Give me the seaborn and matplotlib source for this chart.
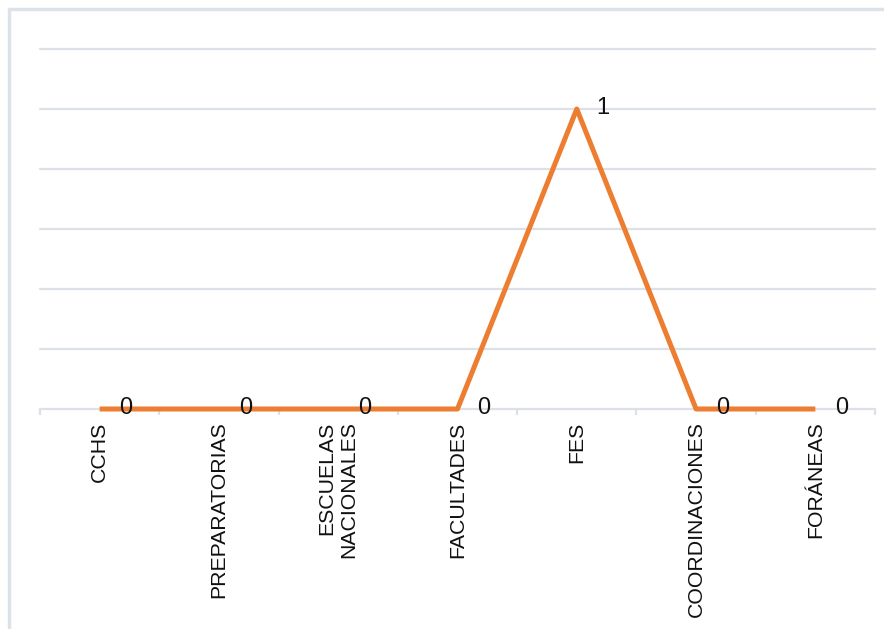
import matplotlib
matplotlib.use("Agg")
import matplotlib.pyplot as plt
import seaborn as sns
import pandas as pd
from matplotlib.patches import Rectangle
from matplotlib.ticker import FixedLocator

categories = ["CCHS", "PREPARATORIAS", "ESCUELAS NACIONALES", "FACULTADES",
              "FES", "COORDINACIONES", "FORÁNEAS"]
tick_labels = ["CCHS", "PREPARATORIAS", "ESCUELAS\nNACIONALES", "FACULTADES",
               "FES", "COORDINACIONES", "FORÁNEAS"]
values = [0, 0, 0, 0, 1, 0, 0]

sns.set_theme(style="white")
plt.rcParams["font.family"] = ["Liberation Sans", "DejaVu Sans"]

W, H = 884, 629
fig = plt.figure(figsize=(W / 100, H / 100), dpi=100)
ax = fig.add_axes([40 / W, 1 - 409 / H, (875 - 40) / W, (409 - 49) / H])

df = pd.DataFrame({"cat": categories, "val": values})
df["pos"] = range(len(categories))
sns.lineplot(data=df, x="pos", y="val", ax=ax, color="#ED7D31",
             linewidth=3.6, sort=False, solid_capstyle="butt")
for ln in ax.lines:
    ln.set_clip_on(False)
    ln.set_zorder(5)

n = len(categories)
ax.set_xlim(-0.5, n - 0.5)
ax.set_ylim(0, 1.2)
grid_c = "#DCE1E8"
for yv in [0.2, 0.4, 0.6, 0.8, 1.0, 1.2]:
    ax.axhline(yv, color=grid_c, linewidth=1.6, zorder=0, clip_on=False)

ax.set_yticks([])
ax.set_xticks(range(n))
ax.set_xticklabels(tick_labels, rotation=90, fontsize=15.3, color="#111111",
                   ha="center", va="top", multialignment="right")
ax.xaxis.set_minor_locator(FixedLocator([i - 0.5 for i in range(n + 1)]))
ax.tick_params(axis="x", which="major", length=0, pad=9)
ax.tick_params(axis="x", which="minor", length=4, width=1.6, color=grid_c,
               bottom=True)
for s in ["top", "right", "left"]:
    ax.spines[s].set_visible(False)
ax.spines["bottom"].set_color(grid_c)
ax.spines["bottom"].set_linewidth(1.6)
ax.set_xlabel("")
ax.set_ylabel("")

for i, v in enumerate(values):
    ax.annotate(str(v), (i, v), xytext=(19, 1), textcoords="offset points",
                ha="center", va="center", fontsize=17, color="#111111",
                annotation_clip=False, zorder=6)

fig.patches.append(Rectangle((9 / W, -0.1), 1.2, 1 - 9 / H + 0.1,
                             transform=fig.transFigure, fill=False,
                             edgecolor="#DDE2EA", linewidth=2.5))

fig.savefig("out.png", dpi=100)
